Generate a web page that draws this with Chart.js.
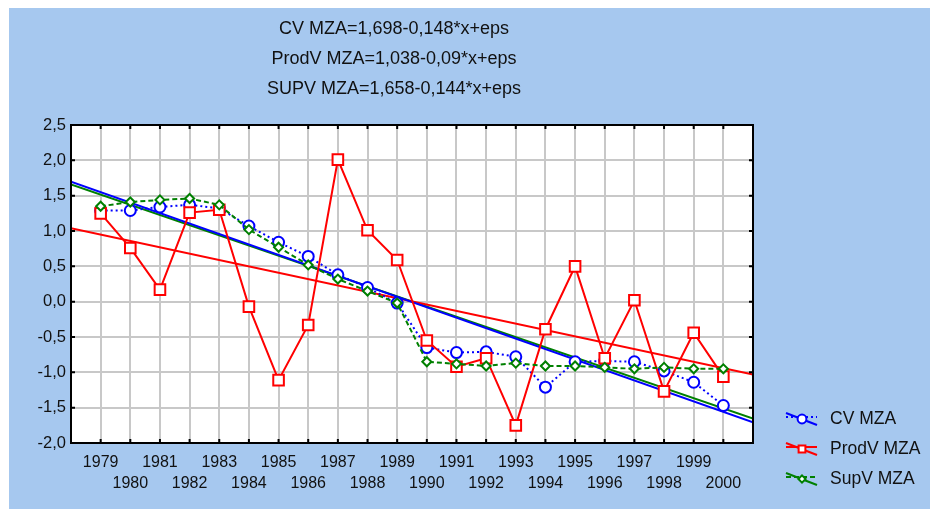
<!DOCTYPE html>
<html>
<head>
<meta charset="utf-8">
<script src="https://cdn.jsdelivr.net/npm/chart.js@4.4.1/dist/chart.umd.min.js"></script>
<style>
  html, body { margin: 0; padding: 0; background: #fff; }
  #wrap { position: absolute; left: 9px; top: 8px; width: 921px; height: 501px; background: #A6C8EF; }
</style>
</head>
<body>
<div id="wrap"><canvas id="myChart" width="921" height="501"></canvas></div>
<script>
// data
var years = [1979, 1980, 1981, 1982, 1983, 1984, 1985, 1986, 1987, 1988, 1989,
             1990, 1991, 1992, 1993, 1994, 1995, 1996, 1997, 1998, 1999, 2000];
var cvMza = [1.29, 1.29, 1.34, 1.37, 1.32, 1.07, 0.84, 0.64, 0.38, 0.20, -0.02,
             -0.65, -0.72, -0.71, -0.78, -1.21, -0.85, -0.84, -0.85, -0.98, -1.14, -1.47];
var prodvMza = [1.25, 0.76, 0.17, 1.26, 1.30, -0.07, -1.11, -0.33, 2.01, 1.01, 0.59,
                -0.55, -0.92, -0.80, -1.75, -0.39, 0.50, -0.80, 0.02, -1.27, -0.44, -1.06];
var supvMza = [1.35, 1.41, 1.44, 1.46, 1.37, 1.02, 0.77, 0.52, 0.32, 0.15, -0.02,
               -0.85, -0.88, -0.91, -0.87, -0.91, -0.91, -0.93, -0.95, -0.93, -0.95, -0.95];

// fitted lines (ends of the axis, from the equations in the title)
var fitYears = [1978, 2001];
var cvFit = [1.698, -1.706];
var prodvFit = [1.038, -1.032];
var supvFit = [1.658, -1.654];

var titleLines = ['CV MZA=1,698-0,148*x+eps', 'ProdV MZA=1,038-0,09*x+eps', 'SUPV MZA=1,658-0,144*x+eps'];
var seriesNames = ['CV MZA', 'ProdV MZA', 'SupV MZA'];
var xMin = 1978, xMax = 2001;
var yMin = -2.0, yMax = 2.5, yStep = 0.5;

var BLUE = '#0000FF', RED = '#FF0000', GREEN = '#008000';
var FONT = '"Liberation Sans", Arial, sans-serif';

function pts(xs, ys) {
  var out = [];
  for (var i = 0; i < xs.length; i++) out.push({ x: xs[i], y: ys[i] });
  return out;
}

var dsCV = {
  label: seriesNames[0], data: pts(years, cvMza), order: 3,
  borderColor: BLUE, borderWidth: 2, borderDash: [2, 3],
  pointStyle: 'circle', pointRadius: 5.5, pointBorderWidth: 2,
  pointBackgroundColor: '#fff', pointBorderColor: BLUE
};
var dsProd = {
  label: seriesNames[1], data: pts(years, prodvMza), order: 2,
  borderColor: RED, borderWidth: 2,
  pointStyle: 'rect', pointRadius: 7.5, pointBorderWidth: 2,
  pointBackgroundColor: '#fff', pointBorderColor: RED
};
var dsSup = {
  label: seriesNames[2], data: pts(years, supvMza), order: 1,
  borderColor: GREEN, borderWidth: 2, borderDash: [5, 3],
  pointStyle: 'rectRot', pointRadius: 4.5, pointBorderWidth: 2,
  pointBackgroundColor: '#fff', pointBorderColor: GREEN
};
function fitSet(ys, color, ord) {
  return { label: '', data: pts(fitYears, ys), order: ord, borderColor: color,
           borderWidth: 2, pointRadius: 0 };
}

// white plot area, black frame, inner ticks
var frame = {
  id: 'frame',
  beforeDraw: function (chart) {
    var a = chart.chartArea, c = chart.ctx;
    c.save(); c.fillStyle = '#fff';
    c.fillRect(a.left, a.top, a.right - a.left, a.bottom - a.top);
    c.restore();
  },
  afterDraw: function (chart) {
    var a = chart.chartArea, c = chart.ctx;
    var xs = chart.scales.x, ys = chart.scales.y;
    c.save();
    c.strokeStyle = '#000'; c.lineWidth = 2;
    c.strokeRect(a.left, a.top, a.right - a.left, a.bottom - a.top);
    c.beginPath();
    xs.ticks.forEach(function (t) {
      if (t.value <= xMin || t.value >= xMax) return;
      var p = xs.getPixelForValue(t.value);
      c.moveTo(p, a.bottom); c.lineTo(p, a.bottom - 4);
      c.moveTo(p, a.top); c.lineTo(p, a.top + 4);
    });
    ys.ticks.forEach(function (t) {
      if (t.value <= yMin || t.value >= yMax) return;
      var p = ys.getPixelForValue(t.value);
      c.moveTo(a.left, p); c.lineTo(a.left + 4, p);
      c.moveTo(a.right, p); c.lineTo(a.right - 4, p);
    });
    c.stroke();
    c.restore();
  }
};

// three title lines
var titleText = {
  id: 'titleText',
  afterDraw: function (chart) {
    var c = chart.ctx;
    c.save();
    c.fillStyle = '#111'; c.font = '18px ' + FONT;
    c.textAlign = 'center'; c.textBaseline = 'middle';
    titleLines.forEach(function (s, i) { c.fillText(s, 385, 21 + i * 30); });
    c.restore();
  }
};

// legend in lower right, Statistica style icons
var legendBox = {
  id: 'legendBox',
  afterDraw: function (chart) {
    var c = chart.ctx, a = chart.chartArea;
    var x0 = a.right + 33, yc = a.bottom - 24;
    [0, 1, 2].forEach(function (k, i) {
      var ds = chart.data.datasets[k];
      var y = yc + i * 30;
      c.save();
      c.strokeStyle = ds.borderColor; c.lineWidth = 2;
      c.beginPath(); c.moveTo(x0, y - 6); c.lineTo(x0 + 31, y + 6); c.stroke();
      c.setLineDash(ds.borderDash || []);
      c.beginPath(); c.moveTo(x0, y - 2); c.lineTo(x0 + 31, y - 2); c.stroke();
      c.setLineDash([]);
      c.fillStyle = '#fff'; c.strokeStyle = ds.borderColor;
      Chart.helpers.drawPoint(c, { pointStyle: ds.pointStyle, radius: Math.min(ds.pointRadius, 6) * 0.8, rotation: 0, borderWidth: 2 }, x0 + 16, y);
      c.fillStyle = '#111'; c.font = '17.5px ' + FONT;
      c.textAlign = 'left'; c.textBaseline = 'middle';
      c.fillText(ds.label, a.right + 77, y);
      c.restore();
    });
  }
};

new Chart(document.getElementById('myChart'), {
  type: 'line',
  data: {
    datasets: [dsCV, dsProd, dsSup,
               fitSet(cvFit, BLUE, 4), fitSet(prodvFit, RED, 5), fitSet(supvFit, GREEN, 6)]
  },
  options: {
    responsive: false,
    animation: false,
    layout: { padding: { top: 117, right: 177, left: 0, bottom: 0 } },
    plugins: { legend: { display: false }, title: { display: false }, tooltip: { enabled: false } },
    scales: {
      x: {
        type: 'linear', min: xMin, max: xMax,
        afterFit: function (s) { s.height = 66; },
        grid: { color: '#C8C8C8', lineWidth: 2, drawTicks: false },
        border: { display: false },
        ticks: {
          stepSize: 1, autoSkip: false, maxRotation: 0, minRotation: 0, padding: 9,
          color: '#111', font: { family: FONT, size: 16, lineHeight: 1.3 },
          callback: function (v) {
            if (v <= xMin || v >= xMax) return '';
            return v % 2 ? [String(v), ''] : ['', String(v)];
          }
        }
      },
      y: {
        min: yMin, max: yMax,
        afterFit: function (s) { s.width = 62; },
        grid: { color: '#C8C8C8', lineWidth: 2, drawTicks: false },
        border: { display: false },
        ticks: {
          stepSize: yStep, padding: 5, color: '#111',
          font: { family: FONT, size: 16.5 },
          callback: function (v) { return v.toFixed(1).replace('.', ','); }
        }
      }
    }
  },
  plugins: [frame, titleText, legendBox]
});
</script>
</body>
</html>
